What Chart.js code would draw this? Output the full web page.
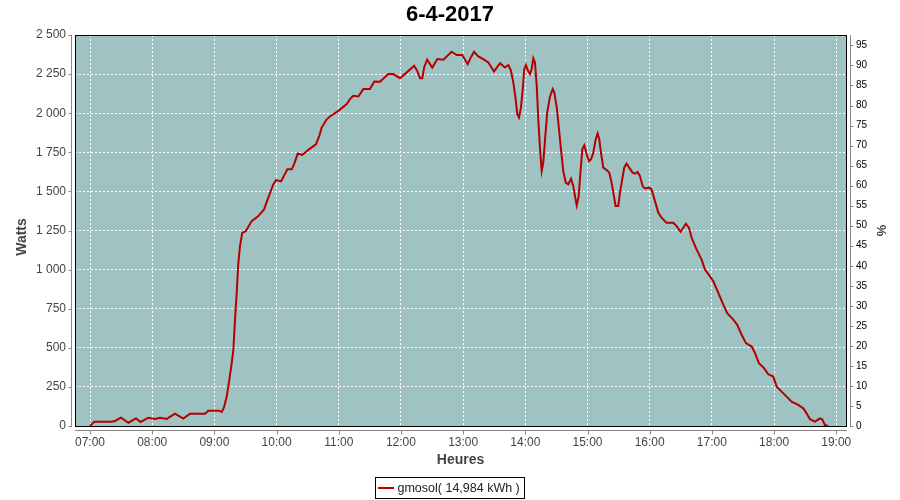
<!DOCTYPE html>
<html><head><meta charset="utf-8">
<script src="https://cdn.jsdelivr.net/npm/chart.js@4/dist/chart.umd.min.js"></script>
<style>html,body{margin:0;padding:0;background:#fff;}#wrap{width:900px;height:500px;}</style>
</head><body><div id="wrap"><canvas id="c" width="900" height="500"></canvas></div>
<script>
const chartTitle = "6-4-2017";
const seriesLabel = "gmosol( 14,984 kWh )";
const leftAxisTitle = "Watts";
// time of each sample, in minutes since midnight
const minutes = [420,424.1,440.9,444.1,449.9,457.0,464.4,468.9,476.2,482.7,487.5,494.0,502.0,510.0,516.5,531.0,534.1,544.5,547.1,549.3,551.9,554.4,556.7,558.3,559.9,561.5,563.1,564.7,566.9,570.2,576.0,582.4,587.9,592.0,596.8,599.5,604.3,610.4,614.6,616.8,620.4,624.8,631.3,638.0,641.2,643.5,648.4,651.5,659.6,667.7,670.8,674.0,678.9,683.7,690.1,694.3,699.8,707.8,712.6,719.1,725.6,732.8,735.7,738.4,740.6,742.5,745.3,750.2,755.1,760.9,768.9,773.8,779.1,784.4,786.6,790.5,794.6,799.4,804.3,809.8,815.6,820.4,823.6,826.2,828.4,830.7,832.2,833.9,835.8,837.5,839.0,840.6,842.6,844.5,846.1,847.7,849.3,851.0,852.5,854.2,855.8,857.3,859.3,861.1,863.8,866.4,867.9,870.3,872.5,874.4,876.6,879.0,881.5,884.1,886.3,887.9,889.6,891.5,893.4,895.0,896.9,899.2,901.4,903.4,905.6,907.9,909.8,911.3,913.0,915.2,918.5,921.0,923.2,925.5,927.1,929.7,931.3,933.5,935.4,937.7,940.2,943.5,945.8,948.3,950.6,953.2,955.4,959.6,961.8,965.1,968.3,971.6,976.3,982.7,986.0,989.8,995.0,997.9,1000.5,1005.3,1010.1,1013.3,1018.2,1021.4,1026.2,1031.0,1034.8,1040.6,1044.5,1048.7,1052.9,1058.4,1061.6,1065.4,1070.3,1074.4,1079.2,1082.5,1087.3,1092.1,1096.9,1103.3,1108.2,1111.4,1114.6,1119.4,1124.3,1126.5,1129.1,1132.3];
const watts = [0,27,27,32,53,21,49,26,53,45,53,45,79,47,79,79,98,98,90,120,188,295,402,487,680,850,1043,1150,1235,1245,1310,1342,1385,1460,1545,1572,1564,1641,1641,1673,1742,1733,1769,1801,1855,1908,1961,1979,2015,2058,2090,2111,2107,2154,2154,2203,2201,2250,2250,2224,2261,2303,2271,2224,2224,2296,2342,2292,2346,2342,2393,2372,2372,2314,2346,2393,2363,2346,2325,2267,2320,2292,2308,2271,2197,2090,1994,1972,2037,2154,2282,2308,2271,2250,2282,2351,2325,2175,1961,1769,1630,1684,1855,2004,2107,2154,2133,2037,1897,1769,1630,1556,1545,1581,1534,1470,1410,1470,1641,1769,1795,1737,1694,1705,1748,1833,1870,1833,1748,1652,1637,1620,1556,1470,1406,1406,1492,1577,1652,1677,1652,1620,1613,1624,1598,1534,1519,1524,1513,1438,1363,1331,1299,1299,1278,1242,1293,1267,1203,1128,1064,1000,957,925,851,776,722,680,647,583,530,508,466,402,370,331,316,252,220,188,156,135,113,81,43,28,49,43,6,0];
const hourTicks = [420,480,540,600,660,720,780,840,900,960,1020,1080,1140];
const hourLabels = ["07:00","08:00","09:00","10:00","11:00","12:00","13:00","14:00","15:00","16:00","17:00","18:00","19:00"];
const wattTicks = [0,250,500,750,1000,1250,1500,1750,2000,2250,2500];
const wattLabels = ["0","250","500","750","1 000","1 250","1 500","1 750","2 000","2 250","2 500"];
const pctTicks = [0,5,10,15,20,25,30,35,40,45,50,55,60,65,70,75,80,85,90,95];

const points = minutes.map((m, i) => ({x: m, y: watts[i]}));
const FONT = '"Liberation Sans", Arial, sans-serif';
const LINE = '#B40000';
const AXIS = '#888888';

const deco = {
  id: 'deco',
  beforeDraw(chart) {
    const {ctx, chartArea: a} = chart;
    ctx.save();
    ctx.fillStyle = '#ffffff';
    ctx.fillRect(0, 0, chart.width, chart.height);
    ctx.fillStyle = '#9FC3C2';
    ctx.fillRect(a.left, a.top, a.right - a.left, a.bottom - a.top);
    ctx.restore();
  },
  afterDraw(chart) {
    const {ctx, chartArea: a, scales} = chart;
    ctx.save();
    ctx.strokeStyle = '#000';
    ctx.lineWidth = 1;
    const L = Math.round(a.left) + 0.5, R = Math.round(a.right) + 0.5,
          T = Math.round(a.top) + 0.5, B = Math.round(a.bottom) + 0.5;
    ctx.strokeRect(L, T, R - L, B - T);
    ctx.strokeStyle = AXIS;
    ctx.beginPath();
    ctx.moveTo(L - 4, T - 0.5); ctx.lineTo(L - 4, B + 0.5);
    ctx.moveTo(L - 0.5, B + 4); ctx.lineTo(R + 0.5, B + 4);
    ctx.moveTo(R + 4, T - 0.5); ctx.lineTo(R + 4, B + 0.5);
    scales.y.ticks.forEach(t => {
      const p = Math.round(scales.y.getPixelForValue(t.value)) + 0.5;
      ctx.moveTo(L - 7, p); ctx.lineTo(L - 4, p);
    });
    scales.y2.ticks.forEach(t => {
      const p = Math.round(scales.y2.getPixelForValue(t.value)) + 0.5;
      ctx.moveTo(R + 4, p); ctx.lineTo(R + 7, p);
    });
    scales.x.ticks.forEach(t => {
      const p = Math.round(scales.x.getPixelForValue(t.value)) + 0.5;
      ctx.moveTo(p, B + 4); ctx.lineTo(p, B + 8);
    });
    ctx.stroke();
    // title
    ctx.fillStyle = '#000';
    ctx.font = 'bold 22px ' + FONT;
    ctx.textAlign = 'center';
    ctx.textBaseline = 'middle';
    ctx.fillText(chartTitle, chart.width / 2, 15);
    // left axis title
    ctx.save();
    ctx.translate(22, 237);
    ctx.rotate(-Math.PI / 2);
    ctx.fillStyle = '#444';
    ctx.font = 'bold 14px ' + FONT;
    ctx.fillText(leftAxisTitle, 0, 0);
    ctx.restore();
    // legend
    ctx.font = '12.5px ' + FONT;
    const label = chart.data.datasets[0].label;
    const tw = ctx.measureText(label).width;
    const bw = 2.5 + 16 + 3.5 + tw + 5;
    const bx = Math.round(chart.width / 2 - bw / 2) + 0.5;
    const by = 477.5, bh = 21;
    ctx.strokeStyle = '#000';
    ctx.lineWidth = 1;
    ctx.strokeRect(bx, by, Math.round(bw), bh);
    ctx.strokeStyle = chart.data.datasets[0].borderColor;
    ctx.lineWidth = 2;
    ctx.beginPath();
    ctx.moveTo(bx + 2.5, 488); ctx.lineTo(bx + 18.5, 488);
    ctx.stroke();
    ctx.fillStyle = '#222';
    ctx.textAlign = 'left';
    ctx.fillText(label, bx + 22, 488.5);
    ctx.restore();
  }
};

new Chart(document.getElementById('c'), {
  type: 'line',
  data: {
    datasets: [{
      label: seriesLabel,
      data: points,
      borderColor: LINE,
      backgroundColor: LINE,
      borderWidth: 2,
      pointRadius: 0,
      tension: 0,
      fill: false,
      yAxisID: 'y'
    }]
  },
  options: {
    responsive: false,
    animation: false,
    devicePixelRatio: 1,
    layout: {padding: {top: 35, left: 0, right: 0, bottom: 0}},
    plugins: {legend: {display: false}, title: {display: false}, tooltip: {enabled: false}},
    scales: {
      x: {
        type: 'linear', position: 'bottom', min: 405.5, max: 1149.4,
        afterBuildTicks: s => { s.ticks = hourTicks.map(v => ({value: v})); },
        afterFit: s => { s.height = 74; },
        ticks: {
          callback: v => hourLabels[hourTicks.indexOf(v)],
          font: {family: FONT, size: 12}, color: '#444', padding: 9,
          maxRotation: 0, autoSkip: false
        },
        grid: {color: '#ffffff', lineWidth: 1, drawTicks: false},
        border: {display: false, dash: [2, 2]},
        title: {display: true, text: 'Heures', font: {family: FONT, size: 14, weight: 'bold'}, color: '#444', padding: {top: 0, bottom: 31}}
      },
      y: {
        type: 'linear', position: 'left', min: 0, max: 2500,
        afterBuildTicks: s => { s.ticks = wattTicks.map(v => ({value: v})); },
        afterFit: s => { s.width = 75; },
        ticks: {
          callback: v => wattLabels[wattTicks.indexOf(v)],
          font: {family: FONT, size: 12}, color: '#444', padding: 9, autoSkip: false
        },
        grid: {color: '#ffffff', lineWidth: 1, drawTicks: false},
        border: {display: false, dash: [2, 2]},
        title: {display: false}
      },
      y2: {
        type: 'linear', position: 'right', min: 0, max: 97.6,
        afterBuildTicks: s => { s.ticks = pctTicks.map(v => ({value: v})); },
        afterFit: s => { s.width = 54; },
        ticks: {font: {family: FONT, size: 10}, color: '#000', padding: 10, autoSkip: false},
        grid: {drawOnChartArea: false, drawTicks: false},
        border: {display: false},
        title: {display: true, text: '%', font: {family: FONT, size: 13, weight: 'bold'}, color: '#444', padding: {top: 12, bottom: 0}}
      }
    }
  },
  plugins: [deco]
});
</script>
</body></html>
